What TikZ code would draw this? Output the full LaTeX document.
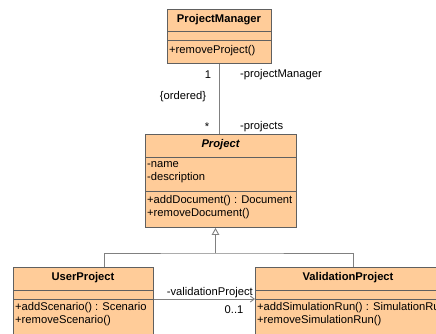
\documentclass[tikz,border=0pt]{standalone}
\usepackage{fontspec}
\setmainfont{Liberation Sans}
\usetikzlibrary{arrows.meta}
\definecolor{classfill}{RGB}{255,204,153}
\definecolor{classedge}{RGB}{96,96,96}
\definecolor{linkgray}{RGB}{128,128,128}
\tikzset{
  cls/.style={draw=classedge, fill=classfill, line width=0.9pt, inner sep=0pt, anchor=north west},
  divider/.style={draw=classedge, line width=0.9pt},
  title/.style={font=\fontsize{11.2}{12.7}\selectfont\bfseries, inner sep=0pt},
  member/.style={font=\fontsize{11.2}{12.7}\selectfont, inner sep=0pt, anchor=west, align=left},
  lbl/.style={font=\fontsize{11.2}{12.7}\selectfont, inner sep=0pt},
  link/.style={draw=linkgray, line width=0.9pt},
}
\begin{document}
\begin{tikzpicture}[x=1pt, y=-1pt]
\useasboundingbox (0,0) rectangle (436,333);
\fill[white] (0,0) rectangle (436,333);

% ProjectManager
\node[cls, minimum width=104pt, minimum height=54pt] (pm) at (167,9) {};
\draw[divider] (167,31) -- (271,31);
\draw[divider] (167,40) -- (271,40);
\node[title] (pmt) at (219,19.5) {ProjectManager};
\node[member] (pmo) at (169,51) {+removeProject()};

% Project
\node[cls, minimum width=151pt, minimum height=93pt] (proj) at (145,134) {};
\draw[divider] (145,157) -- (296,157);
\draw[divider] (145,191) -- (296,191);
\node[title, font=\fontsize{11.2}{12.7}\selectfont\bfseries\itshape] (projt) at (220.5,144.5) {Project};
\node[member] (proja) at (147,172) {-name\\-description};
\node[member] (projo) at (147,207) {+addDocument() : Document\\+removeDocument()};

% UserProject
\node[cls, minimum width=140pt, minimum height=90pt] (up) at (13,267) {};
\draw[divider] (13,290) -- (153,290);
\draw[divider] (13,299) -- (153,299);
\node[title] (upt) at (83,277.5) {UserProject};
\node[member] (upo) at (15,314) {+addScenario() : Scenario\\+removeScenario()};

% ValidationProject
\node[cls, minimum width=186pt, minimum height=90pt] (vp) at (255,267) {};
\draw[divider] (255,290) -- (441,290);
\draw[divider] (255,299) -- (441,299);
\node[title] (vpt) at (348,277.5) {ValidationProject};
\node[member] (vpo) at (257,314) {+addSimulationRun() : SimulationRun\\+removeSimulationRun()};

% association ProjectManager -- Project
\draw[link] (pm.south) -- (pm.south |- proj.north);
\node[lbl] (m1) at (208,75) {1};
\node[lbl, anchor=west] (r1) at (240,75) {-projectManager};
\node[lbl] (ord) at (183,97) {\{ordered\}};
\node[lbl] (m2) at (207,127) {*};
\node[lbl, anchor=west] (r2) at (240,127) {-projects};

% generalization
\coordinate (join) at (215.5,253);
\draw[link, -{Triangle[open, length=7pt, width=7.5pt]}] (join) -- (join |- proj.south);
\draw[link] ([xshift=21pt]up.north) |- (join) -| ([xshift=5pt]vp.north);

% association UserProject -> ValidationProject
\draw[link, -{Straight Barb[length=4pt, width=6pt]}] ([yshift=-32pt]up.north east) -- ([yshift=-32pt]vp.north west);
\node[lbl, anchor=east] (r3) at (253,293) {-validationProject};
\node[lbl] (m3) at (234,310) {0..1};
\end{tikzpicture}
\end{document}
